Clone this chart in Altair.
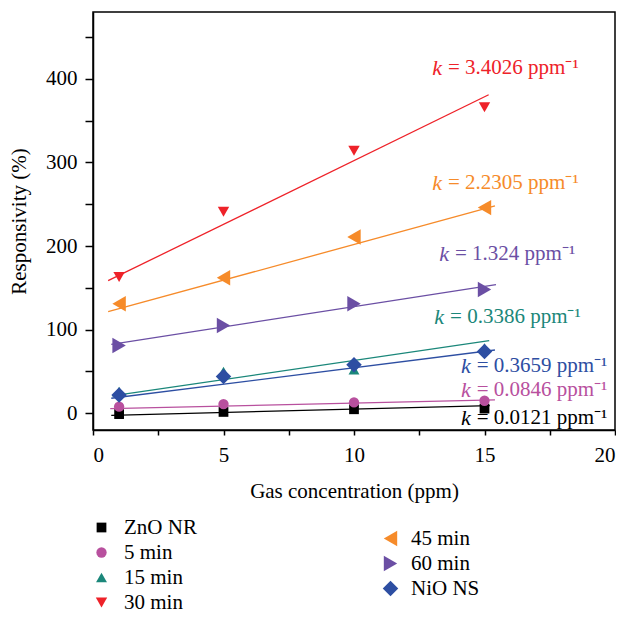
import altair as alt
import pandas as pd

# ---- data ----
conc = [1, 5, 10, 15]
series = ["ZnO NR", "5 min", "15 min", "30 min", "45 min", "60 min", "NiO NS"]
resp_zno = [-1, 1.6, 4.8, 5.6]
resp_5 = [8, 11, 13, 15]
resp_15 = [26, 50, 52, 78]
resp_30 = [163, 241, 314, 366]
resp_45 = [131, 162, 211, 246]
resp_60 = [81, 105, 131, 148]
resp_nio = [22, 44, 58, 74]
responses = [resp_zno, resp_5, resp_15, resp_30, resp_45, resp_60, resp_nio]

# fitted line end points
fit_x0 = [0.7, 0.66, 0.73, 0.58, 0.58, 0.7, 0.7]
fit_y0 = [-2.4, 5.6, 20.7, 158.6, 121.5, 82.5, 18]
fit_x1 = [15.2, 15.4, 15.18, 15.16, 15.4, 15.44, 15.4]
fit_y1 = [9.2, 16, 86.9, 381, 248, 154, 75.7]

# slope annotations
k_values = ["0.0121", "0.0846", "0.3386", "3.4026", "2.2305", "1.324", "0.3659"]
label_x = [14.7, 14.7, 13.68, 13.6, 13.6, 13.87, 14.7]
label_y = [-6, 27.5, 115, 413.5, 276, 191, 57]

x_ticks = [0, 2.5, 5, 7.5, 10, 12.5, 15, 17.5, 20]
y_ticks = [0, 50, 100, 150, 200, 250, 300, 350, 400, 450]

# ---- styles ----
colors = ["#000000", "#B8509E", "#1B877A", "#EE2229", "#F68B2A", "#6B4FA4", "#2D4EA2"]
shapes = ["square", "circle", "triangle-up", "triangle-down", "triangle-left",
          "triangle-right", "diamond"]
sizes = [95, 130, 240, 250, 240, 240, 190]
FONT = "Liberation Serif"

pts = pd.DataFrame(
    [{"series": s, "conc": c, "resp": r}
     for s, rs in zip(series, responses) for c, r in zip(conc, rs)]
)
lines = pd.DataFrame(
    [{"series": s, "conc": x, "resp": y, "o": i}
     for s, a, b, c, d in zip(series, fit_x0, fit_y0, fit_x1, fit_y1)
     for i, (x, y) in enumerate([(a, b), (c, d)])]
)
labels = pd.DataFrame({
    "series": series,
    "x": label_x,
    "y": label_y,
    "txt": ["= " + k + " ppm\u207b\u00b9" for k in k_values],
    "k": ["k"] * len(series),
})

xscale = alt.Scale(domain=[0, 20], nice=False, zero=False)
yscale = alt.Scale(domain=[-20, 480], nice=False, zero=False)
xaxis = alt.Axis(values=x_ticks, format="d",
                 labelExpr="datum.value % 5 == 0 ? datum.label : ''",
                 title="Gas concentration (ppm)", grid=False, tickSize=5,
                 labelPadding=9, titlePadding=15)
yaxis = alt.Axis(values=y_ticks, format="d",
                 labelExpr="datum.value % 100 == 0 ? datum.label : ''",
                 title="Responsivity (%)", grid=False, tickSize=8,
                 labelPadding=8, titlePadding=16)


def X(field):
    return alt.X(field, type="quantitative", scale=xscale, axis=xaxis)


def Y(field):
    return alt.Y(field, type="quantitative", scale=yscale, axis=yaxis)


def point_group(idx, lx, ly, offset):
    names = [series[i] for i in idx]
    leg = alt.Legend(title=None, orient="none", legendX=lx, legendY=ly,
                     labelFont=FONT, labelFontSize=21, labelColor="black",
                     rowPadding=3, labelOffset=offset, symbolStrokeWidth=0,
                     symbolOpacity=1)
    return alt.Chart(pts[pts.series.isin(names)]).mark_point(
        filled=True, opacity=1, strokeWidth=0
    ).encode(
        x=X("conc"), y=Y("resp"),
        color=alt.Color("series:N", sort=names, legend=leg,
                        scale=alt.Scale(domain=names, range=[colors[i] for i in idx])),
        shape=alt.Shape("series:N", sort=names, legend=leg,
                        scale=alt.Scale(domain=names, range=[shapes[i] for i in idx])),
        size=alt.Size("series:N", sort=names, legend=leg,
                      scale=alt.Scale(domain=names, range=[sizes[i] for i in idx])),
    )


cscale = alt.Scale(domain=series, range=colors)
line_layer = alt.Chart(lines).mark_line(strokeWidth=1.3).encode(
    x=X("conc"), y=Y("resp"), detail="series:N", order="o:Q",
    color=alt.Color("series:N", scale=cscale, legend=None),
)
num_layer = alt.Chart(labels).mark_text(
    align="left", baseline="middle", font=FONT, fontSize=21
).encode(
    x=X("x"), y=Y("y"), text="txt:N",
    color=alt.Color("series:N", scale=cscale, legend=None),
)
k_layer = alt.Chart(labels).mark_text(
    align="right", baseline="middle", font=FONT, fontSize=22,
    fontStyle="italic", dx=-6
).encode(
    x=X("x"), y=Y("y"), text="k:N",
    color=alt.Color("series:N", scale=cscale, legend=None),
)
deco = alt.layer(line_layer, num_layer, k_layer)

groupA = point_group([0, 1, 2, 3], -2, 505, 12)
groupB = point_group([4, 5, 6], 287, 516, 10)

chart = alt.layer(deco, groupA, groupB).resolve_scale(
    color="independent", shape="independent", size="independent"
).properties(
    width=522, height=418,
    padding={"left": 85, "top": 4, "right": 1, "bottom": 200},
    autosize=alt.AutoSizeParams(type="none"),
).configure_view(
    stroke="black", strokeWidth=1.5
).configure_axis(
    domainColor="black", domainWidth=1.5, tickColor="black", tickWidth=1.5,
    labelFont=FONT, labelFontSize=21, labelColor="black",
    titleFont=FONT, titleFontSize=21, titleColor="black", titleFontWeight="normal",
)

chart.save("out.html", embed_options={"renderer": "svg", "actions": False})
